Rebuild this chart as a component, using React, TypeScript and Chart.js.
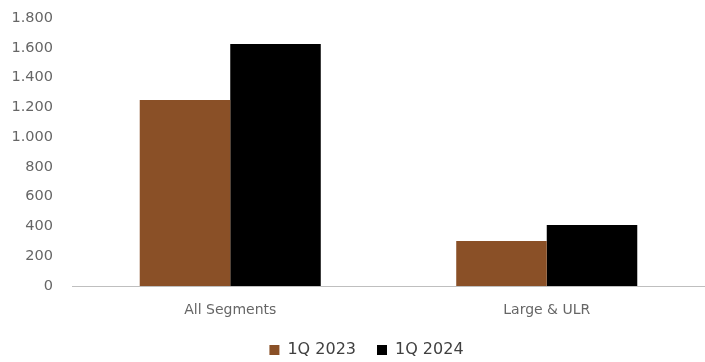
import React, { useEffect, useRef } from "react";
import { Chart, registerables } from "chart.js";

Chart.register(...registerables);

const categories = ["All Segments", "Large & ULR"];
const series2023 = [1250, 302];
const series2024 = [1625, 410];
const seriesLabels = ["1Q 2023", "1Q 2024"];
const yMax = 1800;
const yStep = 200;

const legendHeightPlugin = {
  id: "legendHeight",
  afterInit(chart: any) {
    const lg = chart.legend;
    if (!lg || lg.__patched) return;
    const fit = lg.fit;
    lg.fit = function () {
      fit.call(this);
      this.height = 41;
    };
    lg.__patched = true;
  },
  afterLayout(chart: any) {
    const lg = chart.legend;
    if (!lg) return;
    lg.left += 14;
    lg.right += 14;
  },
};

export default function App() {
  const ref = useRef<HTMLCanvasElement | null>(null);
  useEffect(() => {
    if (!ref.current) return;
    const font = "'DejaVu Sans', sans-serif";
    const chart = new Chart(ref.current, {
      type: "bar",
      data: {
        labels: categories,
        datasets: [
          { label: seriesLabels[0], data: series2023, backgroundColor: "#8A5027" },
          { label: seriesLabels[1], data: series2024, backgroundColor: "#000000" },
        ],
      },
      plugins: [legendHeightPlugin],
      options: {
        responsive: false,
        animation: false,
        layout: { padding: { top: 18, right: 0, left: 0, bottom: 0 } },
        datasets: { bar: { barPercentage: 1, categoryPercentage: 0.572 } },
        scales: {
          x: {
            grid: { display: false, drawTicks: false },
            border: { display: true, color: "#BFBFBF", width: 1 },
            ticks: { color: "#666666", font: { family: font, size: 14 }, padding: 16 },
            afterFit: (s: any) => { s.height = 35; },
          },
          y: {
            min: 0,
            max: yMax,
            grid: { display: false, drawTicks: false },
            border: { display: false },
            afterFit: (s: any) => {
              s.width = 72;
              s.paddingTop = 9;
              s.paddingBottom = 9;
            },
            ticks: {
              stepSize: yStep,
              color: "#666666",
              font: { family: font, size: 14.5 },
              padding: 19,
              callback: (v: any) => Number(v).toLocaleString("de-DE"),
            },
          },
        },
        plugins: {
          tooltip: { enabled: false },
          legend: {
            position: "bottom",
            labels: {
              color: "#404040",
              font: { family: font, size: 16 },
              boxWidth: 10,
              boxHeight: 10,
              padding: 21,
            },
          },
        },
      },
    });
    return () => chart.destroy();
  }, []);
  return (
    <div style={{ position: "fixed", left: 0, top: 0, width: 705, height: 362, background: "#fff" }}>
      <canvas ref={ref} width={705} height={362} />
    </div>
  );
}
